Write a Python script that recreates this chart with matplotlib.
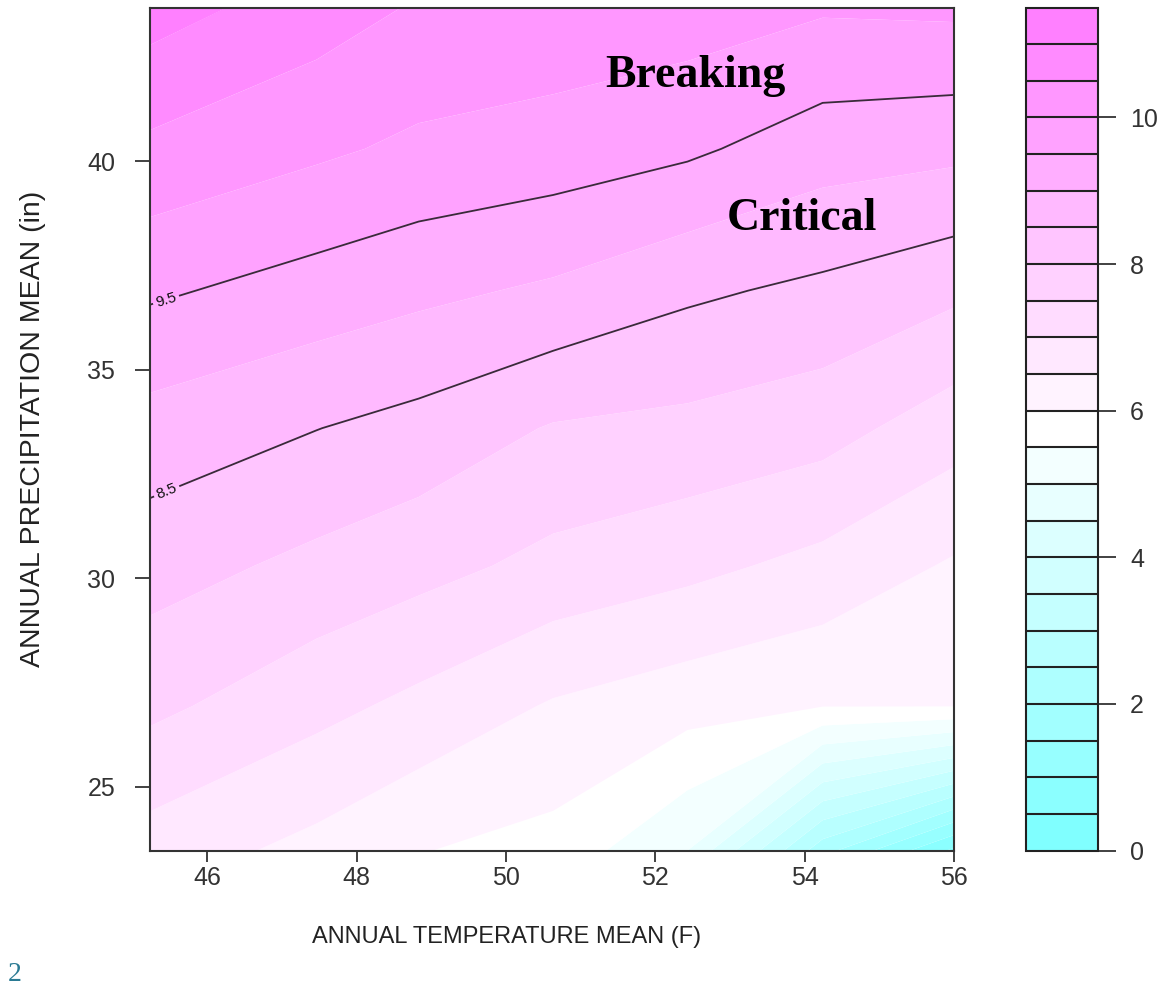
import numpy as np
import matplotlib
matplotlib.use("Agg")
import matplotlib.pyplot as plt
import colorsys

# ---- data ----
temperature = [45.23, 47.46, 48.83, 50.63, 52.43, 54.24, 56.0]      # x grid (F)
precipitation = [23.47, 26.94, 30.3, 33.6, 36.9, 40.3, 43.69]        # y grid (in)
# z[row = precipitation][col = temperature]
z_values = [
    [6.77, 6.35, 6.02, 5.83, 5.00, 2.20, 0.40],
    [7.62, 7.155, 6.87, 6.45, 6.20, 6.02, 6.02],
    [8.21, 7.875, 7.67, 7.36, 7.14, 6.85, 6.44],
    [8.80, 8.51, 8.33, 7.96, 7.87, 7.70, 7.22],
    [9.58, 9.29, 9.12, 8.92, 8.59, 8.39, 8.11],
    [10.39, 10.09, 9.90, 9.78, 9.59, 9.23, 9.13],
    [11.22, 10.74, 10.45, 10.35, 10.25, 10.06, 10.10],
]
levels = [i * 0.5 for i in range(24)]           # 0 .. 11.5
line_levels = [8.5, 9.5]
xticks = [46, 48, 50, 52, 54, 56]
yticks = [25, 30, 35, 40]
cbar_ticks = [0, 2, 4, 6, 8, 10]

# ---- R cm.colors(n) ----
def cm_colors(n):
    k = n // 2
    even = (n % 2 == 0)
    l1 = k + 1 - even
    l2 = n - k + even
    cols = []
    for s in np.linspace(0.5, 0.5 / k if even else 0.0, l1):
        cols.append(colorsys.hsv_to_rgb(6 / 12, s, 1))
    for s in np.linspace(0, 0.5, l2)[1:]:
        cols.append(colorsys.hsv_to_rgb(10 / 12, s, 1))
    return cols

colors = cm_colors(len(levels) - 1)

W, H = 1169, 985
plt.rcParams['font.family'] = ['Liberation Sans', 'DejaVu Sans']
fig = plt.figure(figsize=(W / 100, H / 100), dpi=100)

ax = fig.add_axes([150 / W, 1 - 850.5 / H, 804 / W, 843 / H])
cax = fig.add_axes([1026 / W, 1 - 850.5 / H, 72 / W, 843 / H])

X, Y = np.meshgrid(temperature, precipitation)
Z = np.array(z_values)

cf = ax.contourf(X, Y, Z, levels=levels, colors=colors, antialiased=True)
cl = ax.contour(X, Y, Z, levels=line_levels, colors='#3a2a3a', linewidths=1.3)
ax.clabel(cl, fmt='%.1f', fontsize=11, inline=True, inline_spacing=3,
          colors='#111111', manual=[(45.45, 36.65), (45.45, 32.1)])

ax.set_xlim(45.23, 56.0)
ax.set_ylim(23.47, 43.69)
ax.set_xticks(xticks)
ax.set_yticks(yticks)
ax.tick_params(axis='both', direction='out', width=1.3,
               labelsize=18, colors='#333333', labelcolor='#333333')
ax.tick_params(axis='y', length=11, pad=14)
ax.tick_params(axis='x', length=8, pad=3)
for sp in ax.spines.values():
    sp.set_linewidth(1.5)
    sp.set_color('#333333')

ax.set_xlabel('ANNUAL TEMPERATURE MEAN (F)', fontsize=17, color='#222222')
ax.xaxis.set_label_coords(0.444, -0.1026)
ax.xaxis.label.set_va('center')
ax.set_ylabel('ANNUAL PRECIPITATION MEAN (in)', fontsize=20.5, color='#222222')
ax.yaxis.set_label_coords(-0.145, 0.5)
ax.yaxis.label.set_va('center')

cb = fig.colorbar(cf, cax=cax, ticks=cbar_ticks, drawedges=True)
cb.outline.set_linewidth(1.5)
cb.outline.set_edgecolor('#222222')
cb.dividers.set_color('#222222')
cb.dividers.set_linewidth(1.5)
cax.tick_params(direction='out', length=13, width=1.3, labelsize=18,
                colors='#333333', pad=10)
cax.set_yticklabels([str(t) for t in cbar_ticks])

fig.text(605 / W, 1 - 87 / H, 'Breaking', family='Liberation Serif',
         fontweight='bold', fontsize=33, ha='left', va='baseline')
fig.text(727 / W, 1 - 230 / H, 'Critical', family='Liberation Serif',
         fontweight='bold', fontsize=33, ha='left', va='baseline')
fig.text(8 / W, 1 - 962 / H, '2', family='Liberation Serif', fontsize=20,
         color='#2a7a93', ha='left', va='top')

fig.savefig('out.png', dpi=100)
